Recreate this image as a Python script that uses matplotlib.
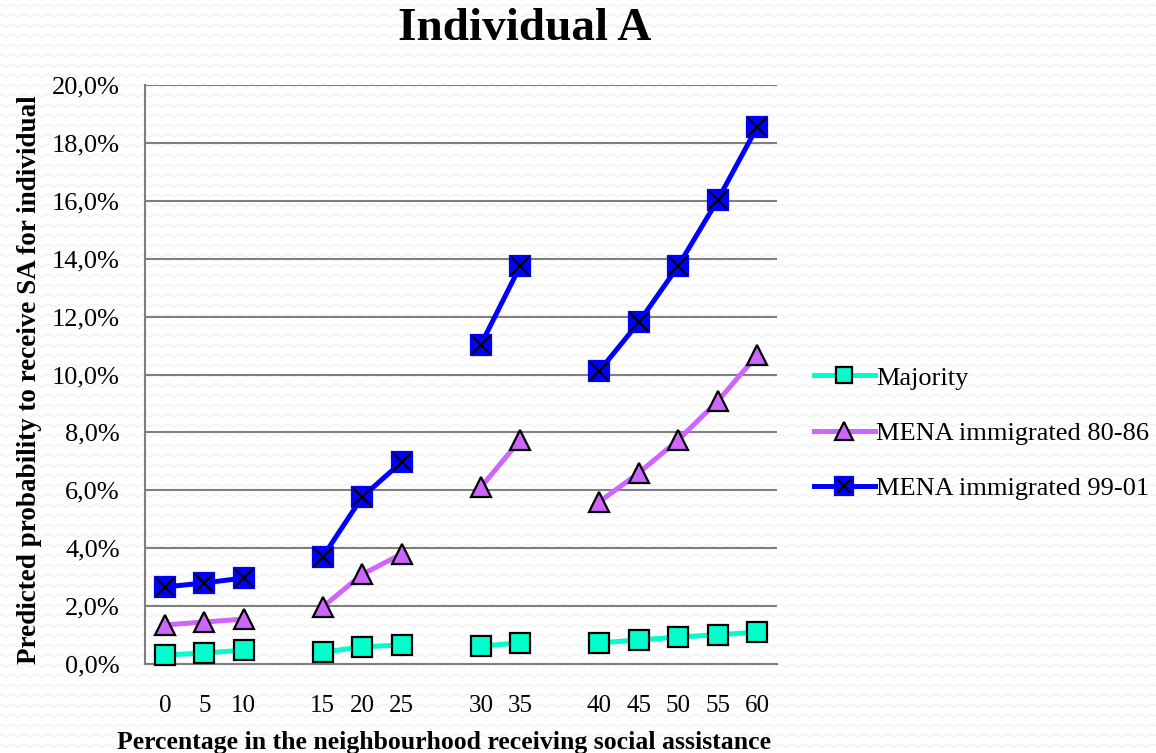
import numpy as np
import matplotlib.pyplot as plt
from matplotlib.lines import Line2D
from matplotlib.legend_handler import HandlerTuple

# neighbourhood share receiving social assistance, in four blocks
groups = [[0, 5, 10], [15, 20, 25], [30, 35], [40, 45, 50, 55, 60]]

# predicted probability (%) per series, one value per neighbourhood share
majority = [0.31, 0.38, 0.48, 0.41, 0.59, 0.66, 0.62, 0.73, 0.73, 0.83, 0.93, 1.01, 1.10]
mena_80_86 = [1.35, 1.45, 1.55, 1.97, 3.10, 3.80, 6.10, 7.74, 5.60, 6.60, 7.74, 9.08, 10.67]
mena_99_01 = [2.66, 2.80, 2.97, 3.70, 5.77, 6.98, 11.02, 13.75, 10.12, 11.80, 13.75, 16.03, 18.55]

serif = ['Liberation Serif', 'DejaVu Serif']
plt.rcParams['font.family'] = serif

fig = plt.figure(figsize=(11.56, 7.53), dpi=100)

# faint zigzag background texture
W, H = 1156, 753
xs = np.arange(0, W + 12, 6)
for row in np.arange(4, H + 10, 10):
    ys = row + np.where((xs // 6) % 2 == 0, 0, 3)
    fig.add_artist(Line2D(xs / W, 1 - ys / H, transform=fig.transFigure,
                          color='#efefef', lw=0.9, zorder=-5))

ax = fig.add_axes([145 / W, 1 - 664 / H, (777 - 145) / W, (664 - 85) / H])
ax.patch.set_alpha(0)

# x positions with one empty slot between blocks
positions, labels = [], []
slot = 0
for g in groups:
    for v in g:
        positions.append(slot)
        labels.append(str(v))
        slot += 1
    slot += 1

def draw(values, color, marker, mfc, mec, ms):
    i = 0
    handle = None
    for g in groups:
        n = len(g)
        handle, = ax.plot(positions[i:i + n], values[i:i + n], color=color, lw=3.6,
                          marker=marker, ms=ms, mfc=mfc, mec=mec, mew=1.6,
                          zorder=3, clip_on=False)
        i += n
    return handle

h1 = draw(majority, '#00ffcc', 's', '#00ffcc', 'black', 14)
h2 = draw(mena_80_86, '#cc66ff', '^', '#cc66ff', 'black', 15)
h3 = draw(mena_99_01, '#0000ff', 's', '#0000ff', '#0000ff', 14.5)
hx, = ax.plot(positions, mena_99_01, ls='none', marker='x', ms=12.5, mec='black',
              mew=1.6, zorder=4, clip_on=False)

ax.set_xlim(-0.5, slot - 1.5)
ax.set_ylim(0, 20)
ax.set_yticks(np.arange(0, 21, 2))
ax.set_yticklabels([f'{v:.1f}%'.replace('.', ',') for v in np.arange(0, 21, 2)])
ax.set_xticks(positions)
ax.set_xticklabels(labels)
ax.tick_params(axis='both', length=0)
ax.tick_params(axis='x', pad=22, labelsize=18)
ax.tick_params(axis='y', pad=18, labelsize=19)
ax.grid(axis='y', color='#7f7f7f', lw=1.5)
ax.set_axisbelow(True)
for s in ['top', 'right']:
    ax.spines[s].set_visible(False)
for s in ['left', 'bottom']:
    ax.spines[s].set_color('#7f7f7f')
    ax.spines[s].set_linewidth(1.5)

fig.text(444 / W, 1 - 742 / H,
         'Percentage in the neighbourhood receiving social assistance',
         ha='center', va='center', fontsize=18.5, fontweight='bold')
fig.text(30 / W, 1 - 380 / H, 'Predicted probability to receive SA for individual',
         ha='center', va='center', rotation=90, fontsize=19.5, fontweight='bold')
fig.text(525 / W, 1 - 29 / H, 'Individual A', ha='center', va='center',
         fontsize=34, fontweight='bold')

fig.legend([h1, h2, (h3, hx)], ['Majority', 'MENA immigrated 80-86', 'MENA immigrated 99-01'],
           handler_map={tuple: HandlerTuple(ndivide=1, pad=0)},
           loc='center left', bbox_to_anchor=(814 / W, 1 - 433 / H), frameon=False,
           fontsize=19, handlelength=2.3, handletextpad=0.05, labelspacing=1.2,
           borderaxespad=0, borderpad=0, markerscale=0.85)

fig.savefig('out.png', dpi=100)
